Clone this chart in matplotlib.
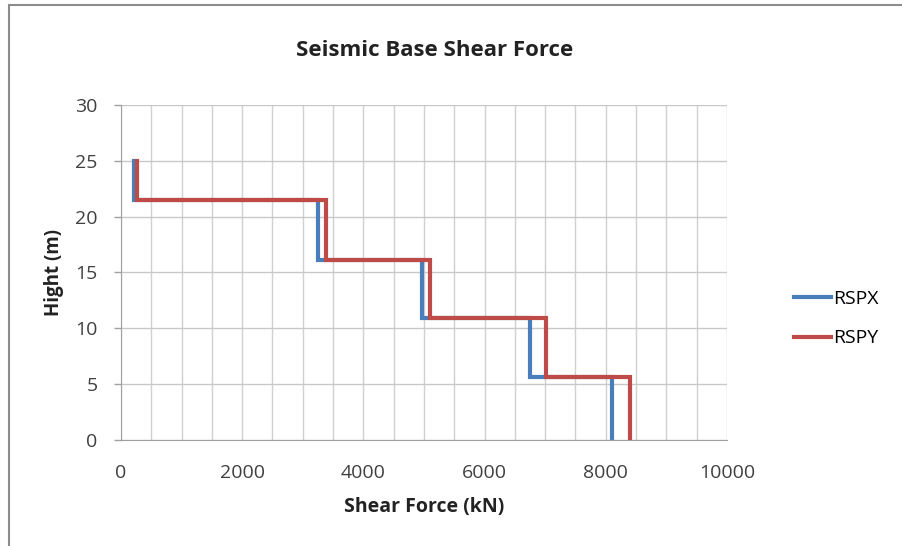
import numpy as np
import matplotlib.pyplot as plt
from matplotlib.patches import Rectangle

# story levels (m) and storey shear (kN)
levels = [25.0, 21.5, 16.1, 10.9, 5.65, 0.0]
rspx = [220, 3250, 4960, 6750, 8100]
rspy = [270, 3380, 5100, 7010, 8400]


def step_xy(shear, lev):
    xs, ys = [], []
    for i, v in enumerate(shear):
        xs += [v, v]
        ys += [lev[i], lev[i + 1]]
    return xs, ys


plt.rcParams['font.family'] = ['Open Sans', 'DejaVu Sans']

fig = plt.figure(figsize=(9.03, 5.46), dpi=100)
ax = fig.add_axes([0.134, 0.194, 0.671, 0.614])

# outer chart frame (top and left edges visible in the reference)
fig.patches.append(Rectangle((8.5 / 903, -0.1), 1.2, 1 - 4.5 / 546 + 0.1,
                             transform=fig.transFigure, fill=False,
                             edgecolor='#8c8c8c', linewidth=1.5))

x, y = step_xy(rspx, levels)
ax.plot(x, y, color='#4a7ebb', lw=3, label='RSPX', solid_joinstyle='miter')
x, y = step_xy(rspy, levels)
ax.plot(x, y, color='#be4b48', lw=3, label='RSPY', solid_joinstyle='miter')

ax.set_xlim(0, 10000)
ax.set_ylim(0, 30)
ax.set_xticks(np.arange(0, 10001, 2000))
ax.set_xticks(np.arange(0, 10001, 500), minor=True)
ax.set_yticks(np.arange(0, 31, 5))
ax.grid(True, which='both', axis='x', color='#d0d0d0', lw=1)
ax.grid(True, which='major', axis='y', color='#c8c8c8', lw=1)
ax.set_axisbelow(True)

for s in ['top', 'right']:
    ax.spines[s].set_visible(False)
for s in ['left', 'bottom']:
    ax.spines[s].set_color('#a0a0a0')

ax.tick_params(axis='x', which='both', length=0, pad=17, labelsize=14, colors='#404040')
ax.tick_params(axis='y', length=5, width=1, color='#a0a0a0', pad=12, labelsize=14, labelcolor='#404040')

ax.set_xlabel('Shear Force (kN)', fontsize=14, fontweight='bold', labelpad=11, color='#222222')
ax.set_ylabel('Hight (m)', fontsize=13.5, fontweight='bold', labelpad=8, color='#222222')
fig.text(0.481, 1 - 50 / 546, 'Seismic Base Shear Force', fontsize=16, fontweight='bold',
         color='#222222', ha='center', va='center')

ax.legend(loc='center left', bbox_to_anchor=(1.082, 0.362), frameon=False,
          fontsize=14, handlelength=1.9, handletextpad=0.1, labelspacing=1.1)

fig.savefig('out.png', dpi=100)
